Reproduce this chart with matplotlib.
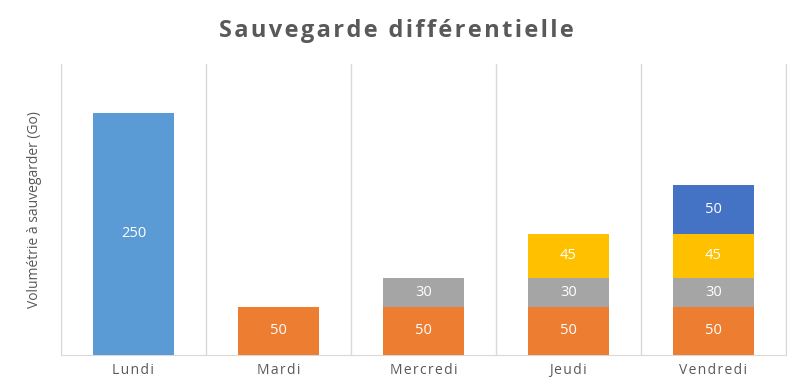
import matplotlib.pyplot as plt
import numpy as np

plt.rcParams['font.family'] = ['Open Sans', 'DejaVu Sans']

jours = ['Lundi', 'Mardi', 'Mercredi', 'Jeudi', 'Vendredi']
lundi = [250, 0, 0, 0, 0]
mardi = [0, 50, 50, 50, 50]
mercredi = [0, 0, 30, 30, 30]
jeudi = [0, 0, 0, 45, 45]
vendredi = [0, 0, 0, 0, 50]

series = [lundi, mardi, mercredi, jeudi, vendredi]
couleurs = ['#5B9BD5', '#ED7D31', '#A5A5A5', '#FFC000', '#4472C4']


def espace(txt, sep='\u200a'):
    # imite l'espacement des lettres du graphique d'origine
    return sep.join(txt)


fig = plt.figure(figsize=(7.92, 3.79), dpi=100)
ax = fig.add_axes([0.077, 0.063, 0.915, 0.768])

x = np.arange(len(jours))
bas = np.zeros(len(jours))
for vals, c in zip(series, couleurs):
    vals = np.array(vals, dtype=float)
    bars = ax.bar(x, vals, 0.56, bottom=bas, color=c, zorder=3)
    for b, v, y0 in zip(bars, vals, bas):
        if v > 0:
            ax.text(b.get_x() + b.get_width() / 2, y0 + v / 2, f'{int(v)}',
                    ha='center', va='center', color='white', fontsize=10.5, zorder=4)
    bas += vals

ax.set_xlim(-0.5, len(jours) - 0.5)
ax.set_ylim(0, 300)
ax.set_xticks(x)
ax.set_xticklabels([espace(j) for j in jours], color='#595959', fontsize=10)
ax.set_xticks(np.arange(-0.5, len(jours), 1), minor=True)
ax.tick_params(axis='x', which='both', length=0, pad=6)
ax.set_yticks([])
ax.grid(axis='x', which='minor', color='#D9D9D9', linewidth=1, zorder=0)
ax.spines['top'].set_visible(False)
for s in ['left', 'right', 'bottom']:
    ax.spines[s].set_color('#D9D9D9')

ax.set_ylabel('Volumétrie à sauvegarder (Go)', color='#595959', fontsize=10, labelpad=14)
fig.suptitle(espace('Sauvegarde différentielle'), fontsize=17, fontweight='bold',
             color='#595959', y=0.95)

fig.savefig('out.png', dpi=100)
